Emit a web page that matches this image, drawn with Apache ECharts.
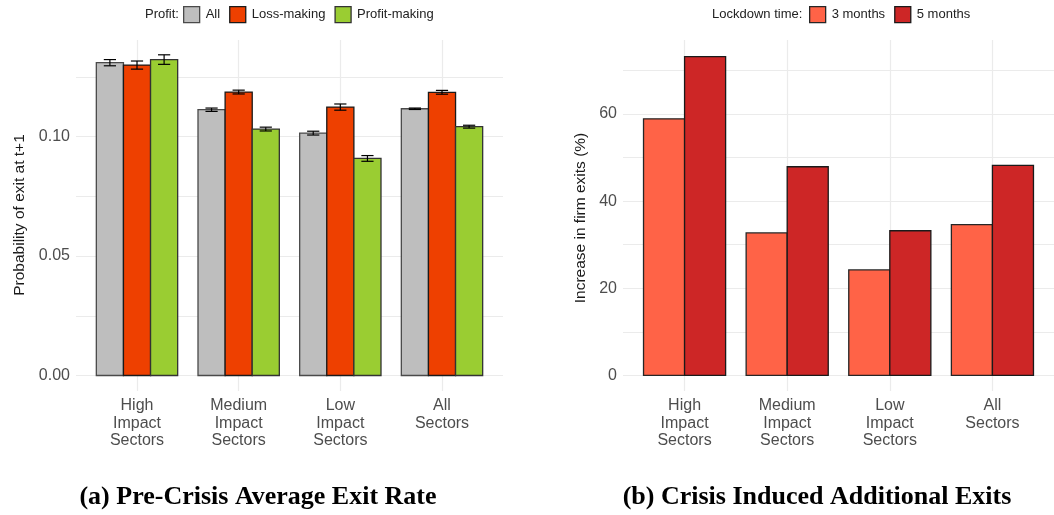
<!DOCTYPE html>
<html>
<head>
<meta charset="utf-8">
<script src="https://cdn.jsdelivr.net/npm/echarts@6/dist/echarts.min.js"></script>
<style>
  html, body { margin: 0; padding: 0; background: #fff; }
  #chart { width: 1054px; height: 515px; }
</style>
</head>
<body>
<div id="chart"></div>
<script>
// Sector groups shown on both panels
const sectors = ['High\nImpact\nSectors', 'Medium\nImpact\nSectors', 'Low\nImpact\nSectors', 'All\nSectors'];

// Panel (a): pre-crisis exit probability by profit status, with standard errors
const profitGroups = ['All', 'Loss-making', 'Profit-making'];
const exitAll = [0.1310, 0.1113, 0.1015, 0.1117];
const exitLoss = [0.1300, 0.1187, 0.1124, 0.1186];
const exitProfit = [0.1323, 0.1032, 0.0909, 0.1042];
const errAll = [0.0013, 0.0007, 0.0008, 0.0003];
const errLoss = [0.0017, 0.0008, 0.0013, 0.0008];
const errProfit = [0.0020, 0.0008, 0.0012, 0.0006];
const exitTicks = [0, 0.05, 0.10];
const exitGrid = [0, 0.025, 0.05, 0.075, 0.10, 0.125];

// Panel (b): crisis-induced increase in exits (%) by lockdown length
const lockdowns = ['3 months', '5 months'];
const inc3 = [58.9, 32.7, 24.2, 34.6];
const inc5 = [73.2, 47.9, 33.2, 48.2];
const incTicks = [0, 20, 40, 60];
const incGrid = [0, 10, 20, 30, 40, 50, 60, 70];

const catPos = sectors.map((_, i) => i + 1);
const fontSans = 'Liberation Sans, Arial, sans-serif';
const tickColor = '#4d4d4d';
const gridColor = '#ebebeb';

// dodged bar: group slot s of n within a 0.8-wide band
function barRenderer(slot, n) {
  return function (params, api) {
    const cat = api.value(0), v = api.value(1);
    const w = 0.8 / n;
    const x0 = cat - 0.4 + slot * w;
    const p0 = api.coord([x0, v]);
    const p1 = api.coord([x0 + w, 0]);
    return {
      type: 'rect',
      shape: { x: p0[0], y: p0[1], width: p1[0] - p0[0], height: p1[1] - p0[1] },
      style: api.style()
    };
  };
}

function errRenderer(slot, n) {
  return function (params, api) {
    const cat = api.value(0), v = api.value(1), e = api.value(2);
    const w = 0.8 / n;
    const xc = cat - 0.4 + (slot + 0.5) * w;
    const hw = w * 0.225;
    const top = api.coord([xc, v + e]);
    const bot = api.coord([xc, v - e]);
    const l = api.coord([xc - hw, 0])[0];
    const r = api.coord([xc + hw, 0])[0];
    const st = { stroke: '#000', lineWidth: 1.2 };
    return {
      type: 'group',
      children: [
        { type: 'line', shape: { x1: top[0], y1: top[1], x2: bot[0], y2: bot[1] }, style: st },
        { type: 'line', shape: { x1: l, y1: top[1], x2: r, y2: top[1] }, style: st },
        { type: 'line', shape: { x1: l, y1: bot[1], x2: r, y2: bot[1] }, style: st }
      ]
    };
  };
}

function xAxisFor(gridIndex) {
  return {
    type: 'value', gridIndex: gridIndex, min: 0.4, max: 4.6,
    axisLine: { show: false },
    axisTick: { show: false, customValues: catPos },
    splitLine: { show: true, lineStyle: { color: gridColor, width: 1.2 } },
    axisLabel: {
      customValues: catPos,
      formatter: v => sectors[Math.round(v) - 1] || '',
      color: tickColor, fontFamily: fontSans, fontSize: 16, lineHeight: 17.5, margin: 6
    }
  };
}

function yAxisFor(gridIndex, min, max, grid, ticks, fmt) {
  return {
    type: 'value', gridIndex: gridIndex, min: min, max: max,
    axisLine: { show: false },
    axisTick: { show: false, customValues: grid },
    splitLine: { show: true, lineStyle: { color: gridColor, width: 1.2 } },
    axisLabel: {
      customValues: ticks, formatter: fmt,
      color: tickColor, fontFamily: fontSans, fontSize: 16, margin: 6
    }
  };
}

function pairs(vals, errs) {
  return vals.map((v, i) => errs ? [catPos[i], v, errs[i]] : [catPos[i], v]);
}

const exitSeries = [
  { name: profitGroups[0], vals: exitAll, errs: errAll, color: '#bebebe', border: '#4a4a4a' },
  { name: profitGroups[1], vals: exitLoss, errs: errLoss, color: '#ee4000', border: '#1a1a1a' },
  { name: profitGroups[2], vals: exitProfit, errs: errProfit, color: '#9acd32', border: '#333333' }
];
const incSeries = [
  { name: lockdowns[0], vals: inc3, color: '#ff6347', border: '#262626' },
  { name: lockdowns[1], vals: inc5, color: '#cd2626', border: '#1a1a1a' }
];

const series = [];
exitSeries.forEach((s, i) => {
  series.push({
    name: s.name, type: 'custom', xAxisIndex: 0, yAxisIndex: 0,
    renderItem: barRenderer(i, exitSeries.length),
    itemStyle: { color: s.color, borderColor: s.border, borderWidth: 1.3 },
    encode: { x: 0, y: 1 }, data: pairs(s.vals), z: 2
  });
});
exitSeries.forEach((s, i) => {
  series.push({
    name: s.name + ' SE', type: 'custom', xAxisIndex: 0, yAxisIndex: 0,
    renderItem: errRenderer(i, exitSeries.length),
    encode: { x: 0, y: [1] }, data: pairs(s.vals, s.errs), z: 3
  });
});
incSeries.forEach((s, i) => {
  series.push({
    name: s.name, type: 'custom', xAxisIndex: 1, yAxisIndex: 1,
    renderItem: barRenderer(i, incSeries.length),
    itemStyle: { color: s.color, borderColor: s.border, borderWidth: 1.3 },
    encode: { x: 0, y: 1 }, data: pairs(s.vals), z: 2
  });
});

function legendFor(list, left) {
  return {
    left: left, top: 6, padding: 0, orient: 'horizontal', selectedMode: false,
    icon: 'rect', itemWidth: 16, itemHeight: 16, itemGap: 9,
    textStyle: { fontFamily: fontSans, fontSize: 13, color: '#222', padding: [0, 0, 0, 1] },
    data: list.map(s => ({
      name: s.name,
      itemStyle: { color: s.color, borderColor: s.border, borderWidth: 1.3 }
    }))
  };
}

const option = {
  animation: false,
  backgroundColor: '#fff',
  grid: [
    { left: 76, right: 551, top: 40, bottom: 124 },
    { left: 623, right: -10, top: 40, bottom: 124 }
  ],
  xAxis: [xAxisFor(0), xAxisFor(1)],
  yAxis: [
    yAxisFor(0, -0.0065, 0.1405, exitGrid, exitTicks, v => v.toFixed(2)),
    yAxisFor(1, -3.6, 77, incGrid, incTicks, v => String(v))
  ],
  legend: [legendFor(exitSeries, 183), legendFor(incSeries, 809)],
  series: series,
  graphic: [
    { type: 'text', x: 145, y: 14.5, style: { text: 'Profit:', fontFamily: fontSans, fontSize: 13, fill: '#222', verticalAlign: 'middle' } },
    { type: 'text', x: 712, y: 14.5, style: { text: 'Lockdown time:', fontFamily: fontSans, fontSize: 13, fill: '#222', verticalAlign: 'middle' } },
    { type: 'text', x: 20, y: 215, rotation: Math.PI / 2,
      style: { text: 'Probability of exit at t+1', fontFamily: fontSans, fontSize: 15.5, fill: '#1a1a1a', align: 'center', verticalAlign: 'middle' } },
    { type: 'text', x: 581, y: 218, rotation: Math.PI / 2,
      style: { text: 'Increase in firm exits (%)', fontFamily: fontSans, fontSize: 15.5, fill: '#1a1a1a', align: 'center', verticalAlign: 'middle' } },
    { type: 'text', x: 258, y: 497,
      style: { text: '(a) Pre-Crisis Average Exit Rate', fontFamily: 'Liberation Serif, Times New Roman, serif', fontWeight: 'bold', fontSize: 26, fill: '#000', align: 'center', verticalAlign: 'middle' } },
    { type: 'text', x: 817, y: 497,
      style: { text: '(b) Crisis Induced Additional Exits', fontFamily: 'Liberation Serif, Times New Roman, serif', fontWeight: 'bold', fontSize: 26, fill: '#000', align: 'center', verticalAlign: 'middle' } }
  ]
};

const chart = echarts.init(document.getElementById('chart'), null, { renderer: 'canvas' });
chart.setOption(option);
</script>
</body>
</html>
